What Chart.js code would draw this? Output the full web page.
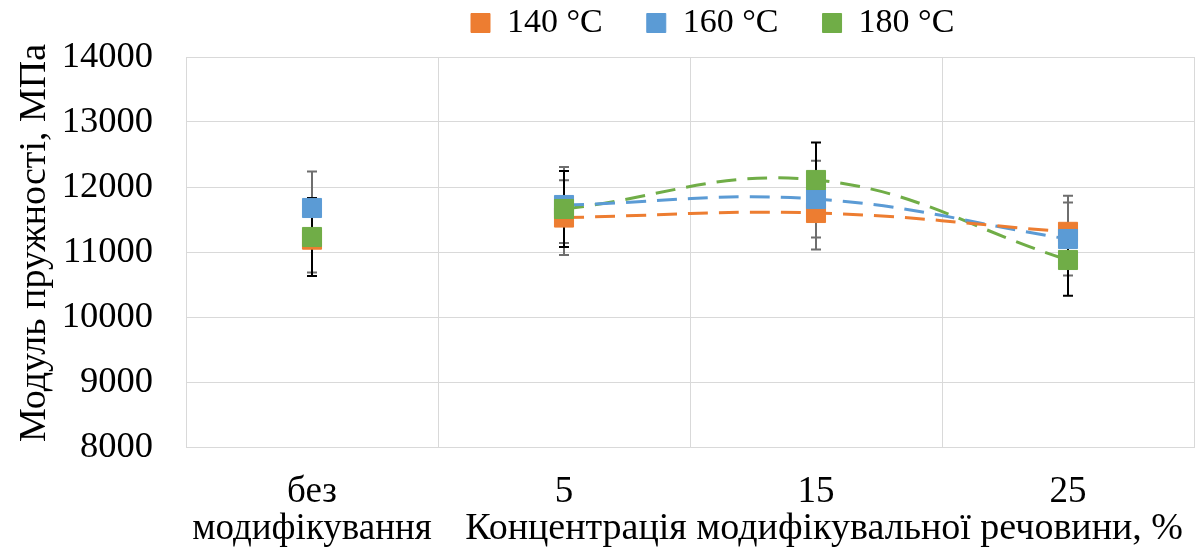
<!DOCTYPE html>
<html><head><meta charset="utf-8">
<script src="https://cdn.jsdelivr.net/npm/chart.js@4/dist/chart.umd.min.js"></script>
<style>html,body{margin:0;padding:0;background:#fff}canvas{display:block}</style>
</head><body>
<canvas id="c" width="1197" height="553" style="width:1197px;height:553px"></canvas>
<script>
const categories = [['без', 'модифікування'], '5', '15', '25'];
const seriesNames = ['140 °C', '160 °C', '180 °C'];
const values140 = [11190, 11530, 11600, 11310];
const values160 = [11677, 11723, 11815, 11200];
const values180 = [11231, 11662, 12108, 10877];
const err140 = [505, 575, 560, 556];
const err160 = [560, 585, 590, 560];
const err180 = [600, 585, 575, 550];
const yMin = 8000, yMax = 14000, yStep = 1000;
const yTitle = 'Модуль пружності, МПа';
const xTitle = 'Концентрація модифікувальної речовини, %';

const FONT = '"Liberation Serif", "Times New Roman", serif';
const colors = ['#ED7D31', '#5B9BD5', '#70AD47'];
const errColors = ['#6e6e6e', '#6e6e6e', '#000000'];
const seriesValues = [values140, values160, values180];
const seriesErr = [err140, err160, err180];
const X_TICK_SIZE = 37, X_TICK_LH = 1.0, X_TICK_PAD = 27;

const markerSets = seriesValues.map((vals, s) => ({
  label: seriesNames[s],
  data: vals,
  showLine: false,
  backgroundColor: colors[s],
  borderColor: colors[s],
  borderWidth: 1,
  pointStyle: 'rect',
  pointRadius: 13.5,
  pointHoverRadius: 13.5,
  pointBackgroundColor: colors[s],
  pointBorderColor: colors[s],
  pointBorderWidth: 1,
  order: 3 - s
}));
const trendSets = seriesValues.map((vals, s) => ({
  label: 'trend ' + seriesNames[s],
  data: vals.map((v, i) => i === 0 ? null : v),
  borderColor: colors[s],
  backgroundColor: colors[s],
  borderWidth: 3,
  borderDash: [20, 11],
  tension: 0.4,
  pointRadius: 0,
  pointHoverRadius: 0,
  spanGaps: false,
  fill: false,
  order: 10 + s
}));

const errorBars = {
  id: 'errorBars',
  beforeDatasetsDraw(chart) {
    const ctx = chart.ctx, xs = chart.scales.x, ys = chart.scales.y;
    ctx.save();
    seriesValues.forEach((vals, s) => {
      ctx.strokeStyle = errColors[s];
      ctx.lineWidth = 2;
      vals.forEach((v, i) => {
        const x = xs.getPixelForValue(i);
        const yt = ys.getPixelForValue(v + seriesErr[s][i]);
        const yb = ys.getPixelForValue(v - seriesErr[s][i]);
        ctx.beginPath();
        ctx.moveTo(x, yt); ctx.lineTo(x, yb);
        ctx.moveTo(x - 5, yt); ctx.lineTo(x + 5, yt);
        ctx.moveTo(x - 5, yb); ctx.lineTo(x + 5, yb);
        ctx.stroke();
      });
    });
    ctx.restore();
  }
};

const legendShift = {
  id: 'legendShift',
  afterLayout(chart) {
    const lg = chart.legend;
    if (!lg || !lg.lineWidths) return;
    const pad = lg.options.labels.padding;
    const start = (lg.left + pad + lg.right - lg.lineWidths[0]) / 2;
    const dx = 471 - start;
    lg.left += dx; lg.right += dx;
    lg.top = 6 - pad;
  }
};

const axisTitles = {
  id: 'axisTitles',
  afterDraw(chart) {
    const ctx = chart.ctx, xs = chart.scales.x, ca = chart.chartArea;
    const lh = X_TICK_SIZE * X_TICK_LH;
    ctx.save();
    ctx.fillStyle = '#000';
    ctx.font = '38px ' + FONT;
    ctx.textAlign = 'right';
    ctx.textBaseline = 'middle';
    ctx.fillText(xTitle, ca.right - 11, xs.top + X_TICK_PAD + lh * 1.5);
    ctx.translate(45, (ca.top + ca.bottom) / 2 - 9);
    ctx.rotate(-Math.PI / 2);
    ctx.textAlign = 'center';
    ctx.textBaseline = 'alphabetic';
    ctx.fillText(yTitle, 0, 0);
    ctx.restore();
  }
};

new Chart(document.getElementById('c'), {
  type: 'line',
  data: { labels: categories, datasets: [...markerSets, ...trendSets] },
  options: {
    responsive: false,
    animation: false,
    devicePixelRatio: 1,
    layout: { autoPadding: false, padding: { left: 0, right: 3, top: 0, bottom: 0 } },
    plugins: {
      legend: {
        position: 'top',
        maxHeight: 57,
        labels: {
          font: { family: FONT, size: 34 },
          color: '#000',
          boxWidth: 19,
          boxHeight: 19,
          padding: 44,
          filter: (it) => it.datasetIndex < 3,
          sort: (a, b) => a.datasetIndex - b.datasetIndex
        }
      },
      tooltip: { enabled: false }
    },
    scales: {
      x: {
        type: 'category',
        offset: true,
        grid: { offset: true, color: '#d9d9d9', drawTicks: false },
        border: { color: '#d9d9d9' },
        ticks: { font: { family: FONT, size: X_TICK_SIZE, lineHeight: X_TICK_LH }, color: '#000', padding: X_TICK_PAD, maxRotation: 0, autoSkip: false },
        afterFit: (s) => { s.height = 106; s.paddingLeft = 0; s.paddingRight = 0; }
      },
      y: {
        min: yMin, max: yMax,
        ticks: { stepSize: yStep, font: { family: FONT, size: 36.5 }, color: '#000', padding: 33, callback: (v) => String(v) },
        grid: { color: '#d9d9d9', drawTicks: false },
        border: { color: '#d9d9d9' },
        afterFit: (s) => { s.width = 186; }
      }
    }
  },
  plugins: [errorBars, legendShift, axisTitles]
});
</script>
</body></html>
